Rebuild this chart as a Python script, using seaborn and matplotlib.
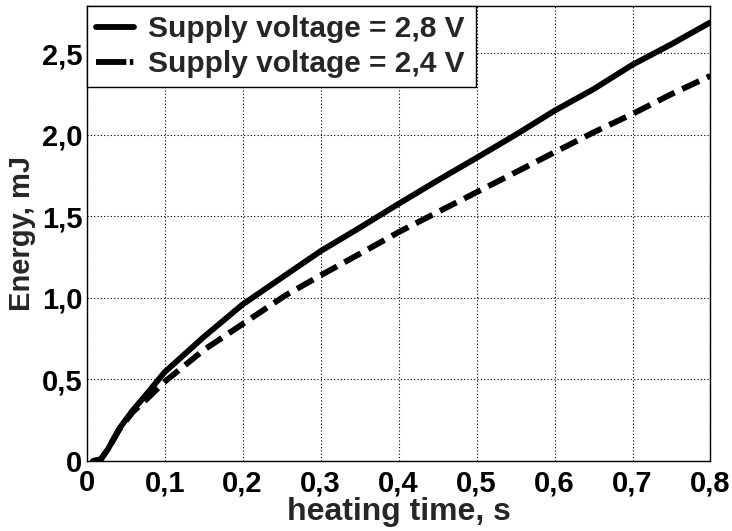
import matplotlib
matplotlib.use("Agg")
import matplotlib.pyplot as plt
import seaborn as sns
import pandas as pd

# ---- data ----
time_s = [0.008, 0.018, 0.027, 0.042, 0.059, 0.075, 0.1, 0.15, 0.2, 0.255, 0.3,
          0.35, 0.4, 0.45, 0.5, 0.55, 0.6, 0.65, 0.7, 0.75, 0.8]
energy_28 = [0.0, 0.01, 0.07, 0.2, 0.31, 0.40, 0.545, 0.76, 0.96, 1.14, 1.287,
             1.43, 1.577, 1.72, 1.859, 2.0, 2.148, 2.28, 2.43, 2.556, 2.69]
energy_24 = [0.0, 0.01, 0.07, 0.195, 0.30, 0.37, 0.486, 0.68, 0.84, 1.016, 1.138,
             1.27, 1.403, 1.526, 1.648, 1.77, 1.893, 2.015, 2.128, 2.25, 2.362]
series_labels = ["Supply voltage = 2,8 V", "Supply voltage = 2,4 V"]
x_ticks = [0, 0.1, 0.2, 0.3, 0.4, 0.5, 0.6, 0.7, 0.8]
x_tick_labels = ["0", "0,1", "0,2", "0,3", "0,4", "0,5", "0,6", "0,7", "0,8"]
y_ticks = [0, 0.5, 1.0, 1.5, 2.0, 2.5]
y_tick_labels = ["0", "0,5", "1,0", "1,5", "2,0", "2,5"]

df = pd.concat([
    pd.DataFrame({"t": time_s, "E": energy_28, "series": series_labels[0]}),
    pd.DataFrame({"t": time_s, "E": energy_24, "series": series_labels[1]}),
], ignore_index=True)

sns.set_style("white")
plt.rcParams["font.family"] = ["Liberation Sans", "DejaVu Sans"]
plt.rcParams["font.weight"] = "bold"

FS = 21
fig = plt.figure(figsize=(7.32, 5.31), dpi=100)
ax = fig.add_axes([0.1184, 0.1318, 0.9706 - 0.1184, 0.9887 - 0.1318])

sns.lineplot(data=df, x="t", y="E", style="series", hue="series",
             palette={series_labels[0]: "black", series_labels[1]: "black"},
             dashes={series_labels[0]: "", series_labels[1]: (3.2, 1.45)},
             linewidth=4.2, ax=ax, sort=False, estimator=None)

ax.set_xlim(0, 0.8)
ax.set_ylim(0, 2.79)
ax.set_xticks(x_ticks)
ax.set_xticklabels(x_tick_labels)
ax.set_yticks(y_ticks)
ax.set_yticklabels(y_tick_labels)
ax.tick_params(axis="both", length=0, labelsize=FS, colors="black")
ax.tick_params(axis="x", pad=6)
ax.tick_params(axis="y", pad=3)
for lab in ax.get_xticklabels() + ax.get_yticklabels():
    lab.set_fontweight("bold")

ax.grid(True, linestyle=(0, (1, 2)), color="black", linewidth=0.8)
for sp in ax.spines.values():
    sp.set_visible(True)
    sp.set_color("black")
    sp.set_linewidth(1.0)

ax.set_xlabel("heating time, s", fontsize=23, fontweight="bold", labelpad=0)
ax.set_ylabel("Energy, mJ", fontsize=FS, fontweight="bold", labelpad=4)

leg = ax.legend(loc="upper left", bbox_to_anchor=(0, 0, 0.6236, 1.0),
                mode="expand", borderaxespad=0, fancybox=False,
                framealpha=1, edgecolor="black",
                prop={"size": 21.5, "weight": "bold"},
                handlelength=1.3, handletextpad=0.45, borderpad=0.3,
                labelspacing=0.25, title=None)
leg.get_frame().set_linewidth(1.0)
handles = leg.get_lines()
handles[1].set_dashes([5.2, 0.6, 0.6, 2.0])

fig.savefig("out.png", dpi=100)
